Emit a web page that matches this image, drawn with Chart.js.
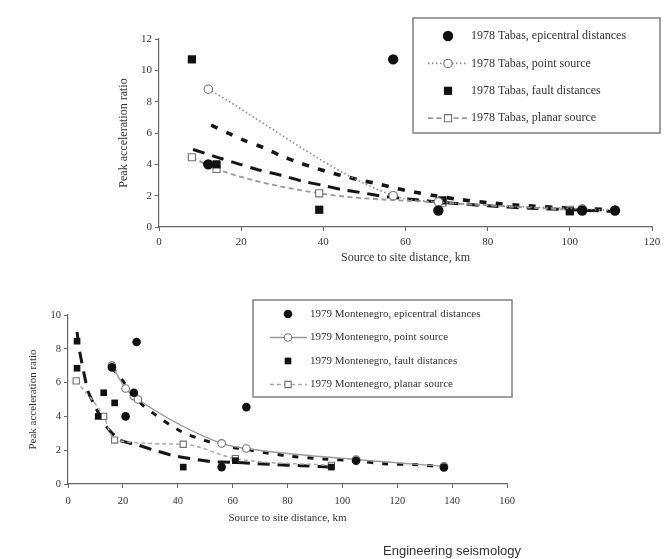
<!DOCTYPE html>
<html><head><meta charset="utf-8">
<script src="https://cdn.jsdelivr.net/npm/chart.js@4.4.1/dist/chart.umd.min.js"></script>
<style>
html,body{margin:0;padding:0;background:#fff;}
body{width:666px;height:559px;position:relative;overflow:hidden;}
#c1{position:absolute;left:0;top:0;}
#c2{position:absolute;left:0;top:280px;}
#foot{position:absolute;left:383px;top:543px;font:13px "Liberation Sans",Arial,sans-serif;color:#333;white-space:nowrap;}
</style></head><body>
<canvas id="c1" width="666" height="280"></canvas>
<canvas id="c2" width="666" height="279"></canvas>
<div id="foot">Engineering seismology</div>
<script>
// ---------- 1978 Tabas ----------
const tabasLabels = ["1978 Tabas, epicentral distances", "1978 Tabas, point source", "1978 Tabas, fault distances", "1978 Tabas, planar source"];
const tabasEpiDist = [12, 57, 68, 103, 111];
const tabasEpiRatio = [4.0, 10.7, 1.05, 1.05, 1.05];
const tabasPointDist = [12, 57, 68, 103, 111];
const tabasPointRatio = [8.8, 2.0, 1.6, 1.15, 1.05];
const tabasFaultDist = [8, 14, 39, 69, 100];
const tabasFaultRatio = [10.7, 4.0, 1.1, 1.7, 1.0];
const tabasPlanarDist = [8, 14, 39, 69, 100];
const tabasPlanarRatio = [4.45, 3.7, 2.15, 1.55, 1.1];
const tabasFitEpiDist = [12.7, 17, 21, 25.4, 29.4, 33.5, 37.6, 41.6, 45.7, 49.8, 53.8, 58, 62, 66.4, 72, 80, 90, 100, 111];
const tabasFitEpiRatio = [6.5, 5.97, 5.5, 5.07, 4.58, 4.16, 3.8, 3.48, 3.2, 2.94, 2.73, 2.45, 2.24, 2.03, 1.8, 1.55, 1.35, 1.2, 1.1];
const tabasFitFaultDist = [8.3, 14.4, 19.7, 24.6, 29.8, 34.7, 39.6, 44.5, 49.8, 54.6, 62, 70, 80, 90, 100, 110];
const tabasFitFaultRatio = [4.95, 4.43, 4.0, 3.62, 3.3, 2.94, 2.67, 2.39, 2.17, 1.96, 1.75, 1.55, 1.35, 1.2, 1.1, 1.0];
const tabasXTicks = [0, 20, 40, 60, 80, 100, 120];
const tabasYTicks = [0, 2, 4, 6, 8, 10, 12];

// ---------- 1979 Montenegro ----------
const montLabels = ["1979 Montenegro, epicentral distances", "1979 Montenegro, point source", "1979 Montenegro, fault distances", "1979 Montenegro, planar source"];
const montEpiDist = [16, 21, 24, 25, 56, 65, 105, 137];
const montEpiRatio = [6.9, 4.0, 5.4, 8.4, 1.0, 4.55, 1.38, 0.98];
const montPointDist = [16, 21, 24, 25.5, 56, 65, 105, 137];
const montPointRatio = [7.0, 5.65, 5.2, 5.0, 2.4, 2.1, 1.45, 1.05];
const montFaultDist = [3.3, 3.3, 11, 13, 17, 42, 61, 96];
const montFaultRatio = [8.45, 6.85, 4.0, 5.4, 4.8, 1.0, 1.38, 1.0];
const montPlanarDist = [3, 13, 17, 42, 61, 96];
const montPlanarRatio = [6.1, 4.0, 2.6, 2.35, 1.5, 1.1];
const montFitEpiDist = [16, 20, 23.7, 27.3, 32.2, 37.1, 42.5, 48, 54, 60, 66, 72, 81, 93, 105, 115, 126, 137];
const montFitEpiRatio = [6.9, 6.1, 5.3, 4.65, 4.05, 3.5, 3.0, 2.67, 2.38, 2.17, 2.02, 1.85, 1.64, 1.48, 1.38, 1.2, 1.15, 1.02];
const montFitFaultDist = [3.3, 4.3, 7.3, 10.3, 14, 18.8, 25, 31, 38.3, 45.6, 52.8, 60, 67.4, 75, 85, 96];
const montFitFaultRatio = [9.0, 7.8, 5.5, 4.45, 3.4, 2.6, 2.33, 2.02, 1.68, 1.48, 1.32, 1.28, 1.22, 1.15, 1.08, 1.0];
const montXTicks = [0, 20, 40, 60, 80, 100, 120, 140, 160];
const montYTicks = [0, 2, 4, 6, 8, 10];

const axisTitle = "Source to site distance, km";
const yTitle = "Peak acceleration ratio";

function pts(xs, ys) { return xs.map((x, i) => ({x: x, y: ys[i]})); }

const SERIF = '"Liberation Serif","Times New Roman",serif';

function drawMarker(ctx, ds, x, y) {
  const r = ds.pointRadius;
  ctx.save();
  ctx.fillStyle = ds.pointBackgroundColor;
  ctx.strokeStyle = ds.pointBorderColor;
  ctx.lineWidth = ds.pointBorderWidth;
  ctx.setLineDash([]);
  ctx.beginPath();
  if (ds.pointStyle === 'rect') {
    const s = r / Math.SQRT2;
    ctx.rect(x - s, y - s, 2 * s, 2 * s);
  } else {
    ctx.arc(x, y, r, 0, Math.PI * 2);
  }
  ctx.fill();
  if (ds.pointBorderWidth > 0) ctx.stroke();
  ctx.restore();
}

const boxLegend = {
  id: 'boxLegend',
  afterDraw(chart, args, o) {
    const ctx = chart.ctx;
    ctx.save();
    ctx.strokeStyle = o.borderColor;
    ctx.lineWidth = o.borderWidth;
    ctx.strokeRect(o.left, o.top, o.width, o.height);
    ctx.font = o.font;
    ctx.fillStyle = o.color;
    ctx.textBaseline = 'middle';
    ctx.textAlign = 'left';
    o.items.forEach((di, i) => {
      const ds = chart.data.datasets[di];
      const y = o.firstRow + i * o.rowGap[i];
      if (ds.showLine) {
        ctx.save();
        ctx.strokeStyle = ds.borderColor;
        ctx.lineWidth = ds.borderWidth;
        ctx.setLineDash(ds.borderDash || []);
        ctx.beginPath();
        ctx.moveTo(o.lineStart, y);
        ctx.lineTo(o.lineEnd, y);
        ctx.stroke();
        ctx.restore();
      }
      drawMarker(ctx, ds, o.markerX, y);
      ctx.fillText(ds.label, o.textX, y);
    });
    ctx.restore();
  }
};

function scatterSet(label, data, style, r, filled) {
  return {
    label: label, data: data, showLine: false,
    pointStyle: style, pointRadius: r, pointHoverRadius: r,
    pointBackgroundColor: filled ? '#111' : '#fff',
    pointBorderColor: filled ? '#111' : '#707070',
    pointBorderWidth: filled ? 0 : 1.1,
    borderColor: '#111', borderWidth: 0
  };
}
function modelSet(label, data, style, r, color, width, dash) {
  return {
    label: label, data: data, showLine: true,
    pointStyle: style, pointRadius: r, pointHoverRadius: r,
    pointBackgroundColor: '#fff', pointBorderColor: '#707070', pointBorderWidth: 1.1,
    borderColor: color, borderWidth: width, borderDash: dash,
    cubicInterpolationMode: 'monotone', fill: false
  };
}
function fitSet(data, width, dash) {
  return {
    label: '', data: data, showLine: true, pointRadius: 0, pointHoverRadius: 0,
    borderColor: '#151515', borderWidth: width, borderDash: dash,
    borderCapStyle: 'butt', tension: 0.2, fill: false
  };
}

function scales(xTicks, yTicks, yW, xH, tickSize, titleSize, xPad) {
  const grid = {display: true, drawOnChartArea: false, drawTicks: true, tickLength: 4, color: '#666', tickColor: '#666'};
  const border = {display: true, color: '#666', width: 1.2};
  return {
    x: {
      type: 'linear', min: xTicks[0], max: xTicks[xTicks.length - 1],
      afterBuildTicks: (s) => { s.ticks = xTicks.map(v => ({value: v})); },
      afterFit: (s) => { s.height = xH; },
      grid: grid, border: border,
      ticks: {color: '#333', font: {family: SERIF, size: tickSize}, padding: xPad, maxRotation: 0, autoSkip: false},
      title: {display: true, text: axisTitle, color: '#333', font: {family: SERIF, size: titleSize}, padding: 0}
    },
    y: {
      type: 'linear', min: yTicks[0], max: yTicks[yTicks.length - 1],
      afterBuildTicks: (s) => { s.ticks = yTicks.map(v => ({value: v})); },
      afterFit: (s) => { s.width = yW; },
      grid: grid, border: border,
      ticks: {color: '#333', font: {family: SERIF, size: tickSize}, padding: 3, autoSkip: false},
      title: {display: true, text: yTitle, color: '#333', font: {family: SERIF, size: titleSize}, padding: 0}
    }
  };
}

// ---------- top chart ----------
new Chart(document.getElementById('c1'), {
  type: 'scatter',
  data: {
    datasets: [
      scatterSet(tabasLabels[0], pts(tabasEpiDist, tabasEpiRatio), 'circle', 5.2, true),
      modelSet(tabasLabels[1], pts(tabasPointDist, tabasPointRatio), 'circle', 4.2, '#8a8a8a', 1.6, [1.5, 2.5]),
      scatterSet(tabasLabels[2], pts(tabasFaultDist, tabasFaultRatio), 'rect', 5.8, true),
      modelSet(tabasLabels[3], pts(tabasPlanarDist, tabasPlanarRatio), 'rect', 5.0, '#9a9a9a', 1.8, [5, 3.5]),
      fitSet(pts(tabasFitEpiDist, tabasFitEpiRatio), 3.6, [7, 9.5]),
      fitSet(pts(tabasFitFaultDist, tabasFitFaultRatio), 3.0, [12, 8])
    ]
  },
  options: {
    responsive: false, animation: false, devicePixelRatio: 1,
    layout: {padding: {left: 117, top: 39, right: 14, bottom: 14.5}},
    scales: scales(tabasXTicks, tabasYTicks, 42, 38.5, 11, 12, 5),
    plugins: {
      legend: {display: false}, tooltip: {enabled: false},
      boxLegend: {
        left: 413, top: 18, width: 247, height: 115,
        borderColor: '#777', borderWidth: 1.4,
        font: '12px ' + SERIF, color: '#333',
        items: [0, 1, 2, 3], firstRow: 36, rowGap: [0, 27.4, 27.4, 27.4],
        markerX: 448, textX: 471, lineStart: 428, lineEnd: 467
      }
    }
  },
  plugins: [boxLegend]
});

// ---------- bottom chart ----------
new Chart(document.getElementById('c2'), {
  type: 'scatter',
  data: {
    datasets: [
      scatterSet(montLabels[0], pts(montEpiDist, montEpiRatio), 'circle', 4.3, true),
      modelSet(montLabels[1], pts(montPointDist, montPointRatio), 'circle', 3.8, '#999', 1.4, []),
      scatterSet(montLabels[2], pts(montFaultDist, montFaultRatio), 'rect', 4.7, true),
      modelSet(montLabels[3], pts(montPlanarDist, montPlanarRatio), 'rect', 4.4, '#aaa', 1.5, [4, 3]),
      fitSet(pts(montFitEpiDist, montFitEpiRatio), 3.0, [6, 9]),
      fitSet(pts(montFitFaultDist, montFitFaultRatio), 3.0, [12, 8])
    ]
  },
  options: {
    responsive: false, animation: false, devicePixelRatio: 1,
    layout: {padding: {left: 27, top: 35, right: 159, bottom: 34.5}},
    scales: scales(montXTicks, montYTicks, 41, 40.5, 10.5, 11, 7),
    plugins: {
      legend: {display: false}, tooltip: {enabled: false},
      boxLegend: {
        left: 253, top: 20, width: 259, height: 97,
        borderColor: '#777', borderWidth: 1.4,
        font: '11px ' + SERIF, color: '#333',
        items: [0, 1, 2, 3], firstRow: 34, rowGap: [0, 23.5, 23.5, 23.5],
        markerX: 288, textX: 310, lineStart: 270, lineEnd: 307
      }
    }
  },
  plugins: [boxLegend]
});
</script>
</body></html>
